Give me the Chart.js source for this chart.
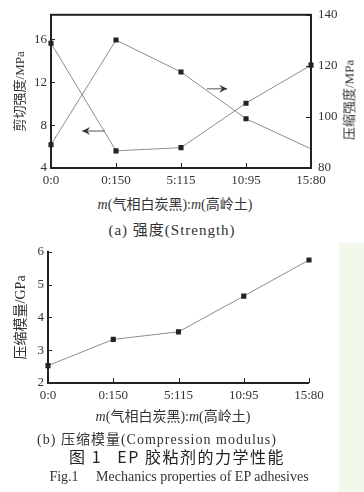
<!DOCTYPE html>
<html>
<head>
<meta charset="utf-8">
<script src="https://cdn.jsdelivr.net/npm/chart.js@4"></script>
<style>
    html, body { margin: 0; padding: 0; background: #fff; }
    body {
        width: 364px; height: 492px; position: relative; overflow: hidden;
        font-family: "Liberation Serif", "Noto Sans CJK SC", serif; color: #333;
    }
    .box { position: absolute; left: 0; width: 364px; }
    .t { position: absolute; white-space: pre; transform: translate(-50%, -50%); }
</style>
</head>
<body>
<div style="position:absolute;left:339px;top:243px;width:25px;height:249px;background:#f2f8ec"></div>
<div class="box" style="top:0;height:190px"><canvas id="chartA"></canvas></div>
<div class="box" style="top:240px;height:170px"><canvas id="chartB"></canvas></div>

<div class="t" style="left:348px;top:100px;font-size:13px;transform:translate(-50%,-50%) rotate(-90deg)">压缩强度/MPa</div>
<div class="t" style="left:175px;top:203px;font-size:14px"><i>m</i>(气相白炭黑):<i>m</i>(高岭土)</div>
<div class="t" style="left:172px;top:228px;font-size:15px;letter-spacing:1px">(a) 强度(Strength)</div>
<div class="t" style="left:173px;top:415px;font-size:14px"><i>m</i>(气相白炭黑):<i>m</i>(高岭土)</div>
<div class="t" style="left:157px;top:438px;font-size:14px;letter-spacing:1px">(b) 压缩模量(Compression modulus)</div>
<div class="t" style="left:177px;top:456px;font-size:16px;letter-spacing:1.5px;font-family:'Noto Sans CJK SC',sans-serif;color:#222">图 1   EP 胶粘剂的力学性能</div>
<div class="t" style="left:179px;top:477px;font-size:14px">Fig.1     Mechanics properties of EP adhesives</div>

<script>
(function () {
    "use strict";

    // data
    const ratios = ["0:0", "0:150", "5:115", "10:95", "15:80"];
    const shearStrength = [15.65, 5.6, 5.9, 10.05, 13.6];        // MPa, left axis
    const compressStrength = [89.1, 130.1, 117.6, 99.3, 87.5];  // MPa, right axis
    const compressModulus = [2.53, 3.33, 3.56, 4.65, 5.75];     // GPa
    const shearTicks = [4, 8, 12, 16];

    // arrows telling which axis each curve uses: [axis, fromIndex, toIndex, value]
    const axisArrows = [
        ["yL", 0.83, 0.48, 7.45],
        ["yR", 2.40, 2.71, 111.0],
    ];

    const serif = '"Liberation Serif", "Noto Sans CJK SC", serif';
    const tickFont = { family: serif, size: 13 };
    const ink = "#333";

    // axis lines, inward tick marks, axis arrows
    const axesPlugin = {
        id: "axesPlugin",
        afterDraw(chart, args, opts) {
            const { ctx, chartArea: a } = chart;
            ctx.save();
            ctx.strokeStyle = "#222";
            ctx.lineWidth = 1;
            Object.values(chart.scales).forEach((s) => {
                s.ticks.forEach((t, i) => {
                    const p = Math.round(s.getPixelForTick(i)) + 0.5;
                    ctx.beginPath();
                    if (s.axis === "x") {
                        ctx.moveTo(p, a.bottom);
                        ctx.lineTo(p, a.bottom - 5);
                    } else if (s.position === "left") {
                        ctx.moveTo(a.left, p);
                        ctx.lineTo(a.left + 4, p);
                    } else {
                        ctx.moveTo(a.right, p);
                        ctx.lineTo(a.right - 5, p);
                    }
                    ctx.stroke();
                });
            });

            (opts.arrows || []).forEach(([axis, i0, i1, v]) => {
                const x0 = chart.scales.x.getPixelForDecimal(i0 / 4);
                const x1 = chart.scales.x.getPixelForDecimal(i1 / 4);
                const y = chart.scales[axis].getPixelForValue(v);
                const d = Math.sign(x1 - x0);
                ctx.strokeStyle = "#555";
                ctx.fillStyle = "#333";
                ctx.lineWidth = 1;
                ctx.beginPath();
                ctx.moveTo(x0, y);
                ctx.lineTo(x1, y);
                ctx.stroke();
                ctx.beginPath();
                ctx.moveTo(x1, y);
                ctx.lineTo(x1 - d * 8, y - 4);
                ctx.lineTo(x1 - d * 5, y);
                ctx.lineTo(x1 - d * 8, y + 4);
                ctx.closePath();
                ctx.fill();
            });

            ctx.strokeStyle = "#222";
            ctx.lineWidth = 2;
            if (opts.box) {
                ctx.strokeRect(a.left, a.top, a.width, a.height);
            } else {
                ctx.beginPath();
                ctx.moveTo(a.left, a.top - 1);
                ctx.lineTo(a.left, a.bottom);
                ctx.lineTo(a.right, a.bottom);
                ctx.stroke();
            }
            ctx.restore();
        },
    };

    const line = {
        borderColor: "#8c8c8c",
        borderWidth: 1,
        pointStyle: "rect",
        pointRadius: 3.6,
        pointBackgroundColor: "#222",
        pointBorderColor: "#222",
        pointBorderWidth: 0,
        tension: 0,
    };

    const xScale = (h) => ({
        type: "category",
        offset: false,
        grid: { display: false, drawTicks: false },
        border: { display: false },
        ticks: { font: tickFont, color: ink, padding: 5, maxRotation: 0, autoSkip: false },
        afterFit: (s) => { s.height = h; },
    });

    // (a) strength
    new Chart(document.getElementById("chartA"), {
        type: "line",
        data: {
            labels: ratios,
            datasets: [
                Object.assign({ label: "剪切强度", data: shearStrength, yAxisID: "yL" }, line),
                Object.assign({ label: "压缩强度", data: compressStrength, yAxisID: "yR" }, line,
                    { pointRadius: [3.6, 3.6, 3.6, 3.6, 0] }),
            ],
        },
        options: {
            responsive: true,
            maintainAspectRatio: false,
            animation: false,
            layout: { padding: { top: 10, left: 0, right: 0, bottom: 0 } },
            plugins: {
                legend: { display: false },
                tooltip: { enabled: false },
                axesPlugin: { box: true, arrows: axisArrows },
            },
            scales: {
                x: xScale(22),
                yL: {
                    position: "left",
                    min: 4,
                    max: 18.3,
                    grid: { display: false, drawTicks: false },
                    border: { display: false },
                    afterBuildTicks: (s) => { s.ticks = shearTicks.map((v) => ({ value: v })); },
                    ticks: { font: tickFont, color: ink, padding: 4 },
                    title: {
                        display: true, text: "剪切强度/MPa", color: ink,
                        font: { family: serif, size: 13 }, padding: { top: 13, bottom: 0 },
                    },
                    afterFit: (s) => { s.width = 51; },
                },
                yR: {
                    position: "right",
                    min: 80,
                    max: 140,
                    grid: { display: false, drawTicks: false },
                    border: { display: false },
                    ticks: { stepSize: 20, font: tickFont, color: ink, padding: 7 },
                    afterFit: (s) => { s.width = 53; },
                },
            },
        },
        plugins: [axesPlugin],
    });

    // (b) compression modulus
    new Chart(document.getElementById("chartB"), {
        type: "line",
        data: {
            labels: ratios,
            datasets: [
                Object.assign({ label: "压缩模量", data: compressModulus }, line),
            ],
        },
        options: {
            responsive: true,
            maintainAspectRatio: false,
            animation: false,
            layout: { padding: { top: 11, left: 0, right: 55, bottom: 0 } },
            plugins: { legend: { display: false }, tooltip: { enabled: false }, axesPlugin: { box: false } },
            scales: {
                x: xScale(27),
                y: {
                    min: 2,
                    max: 6,
                    grid: { display: false, drawTicks: false },
                    border: { display: false },
                    ticks: { stepSize: 1, font: tickFont, color: ink, padding: 4 },
                    title: {
                        display: true, text: "压缩模量/GPa", color: ink,
                        font: { family: serif, size: 14 }, padding: { top: 13, bottom: 0 },
                    },
                    afterFit: (s) => { s.width = 48; },
                },
            },
        },
        plugins: [axesPlugin],
    });
})();
</script>
</body>
</html>
